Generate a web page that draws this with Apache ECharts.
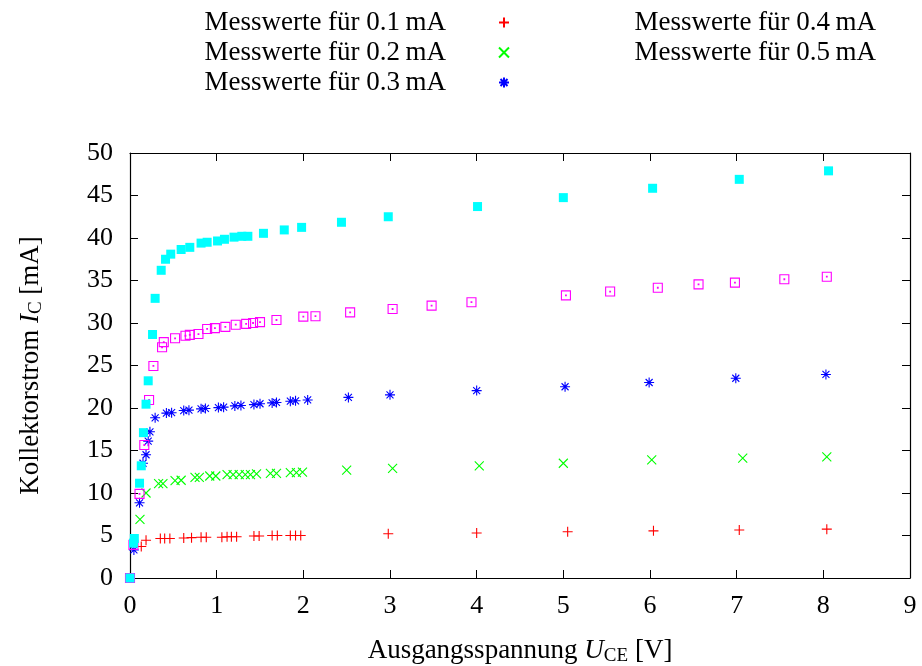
<!DOCTYPE html>
<html><head><meta charset="utf-8">
<script src="https://cdn.jsdelivr.net/npm/echarts@6/dist/echarts.min.js"></script>
<style>html,body{margin:0;padding:0;background:#fff}#c{width:922px;height:666px}</style>
</head><body><div id="c"></div>
<script>
const FONT = 'Liberation Serif';
const seriesNames = ['Messwerte für 0.1\u2009mA','Messwerte für 0.2\u2009mA','Messwerte für 0.3\u2009mA','Messwerte für 0.4\u2009mA','Messwerte für 0.5\u2009mA'];
const seriesColors = ['#ff0000','#00ff00','#0000ff','#ff00ff','#00ffff'];
const xTicks = [0,1,2,3,4,5,6,7,8,9];
const yTicks = [0,5,10,15,20,25,30,35,40,45,50];

const uce01 = [0,0.13,0.185,0.35,0.40,0.46,0.62,0.71,0.82,0.88,1.06,1.12,1.17,1.23,1.43,1.49,1.64,1.70,1.85,1.91,1.97,2.98,4.0,5.05,6.04,7.03,8.04];
const ic01  = [0,3.7,4.45,4.65,4.65,4.65,4.7,4.75,4.8,4.8,4.8,4.85,4.85,4.85,4.95,4.95,5.0,5.0,5.0,5.0,5.0,5.2,5.3,5.45,5.55,5.65,5.75];

const uce02 = [0,0.115,0.185,0.33,0.38,0.52,0.59,0.75,0.80,0.92,0.99,1.12,1.19,1.26,1.33,1.39,1.46,1.62,1.69,1.85,1.92,1.99,2.50,3.03,4.03,5.0,6.02,7.07,8.04];
const ic02  = [0,6.9,10.0,11.1,11.1,11.45,11.5,11.85,11.85,12.0,12.0,12.15,12.15,12.15,12.15,12.15,12.25,12.3,12.3,12.4,12.4,12.45,12.7,12.9,13.2,13.5,13.9,14.1,14.25];

const uce03 = [0,0.045,0.11,0.15,0.185,0.21,0.23,0.29,0.42,0.48,0.62,0.68,0.82,0.87,1.02,1.08,1.21,1.28,1.43,1.50,1.64,1.69,1.85,1.91,2.05,2.52,3.0,4.0,5.02,5.99,6.99,8.03];
const ic03  = [0,3.3,8.85,13.5,14.5,16.1,17.2,18.85,19.4,19.45,19.7,19.75,19.9,19.95,20.05,20.1,20.25,20.3,20.4,20.5,20.6,20.65,20.8,20.85,20.95,21.25,21.55,22.05,22.5,23.0,23.5,23.95];

const uce04 = [0,0.04,0.11,0.165,0.22,0.27,0.37,0.39,0.52,0.64,0.69,0.79,0.89,0.98,1.10,1.22,1.34,1.42,1.50,1.69,2.0,2.14,2.54,3.03,3.48,3.94,5.03,5.54,6.09,6.56,6.98,7.55,8.04];
const ic04  = [0,3.9,9.9,15.65,20.95,24.95,27.15,27.75,28.2,28.5,28.6,28.7,29.3,29.4,29.55,29.8,29.9,30.0,30.1,30.35,30.75,30.8,31.25,31.65,32.05,32.45,33.25,33.7,34.15,34.55,34.75,35.15,35.45];

const uce05 = [0,0.04,0.05,0.11,0.13,0.155,0.185,0.21,0.26,0.29,0.36,0.41,0.47,0.59,0.69,0.82,0.89,1.01,1.09,1.20,1.29,1.36,1.54,1.78,1.98,2.44,2.98,4.01,5.0,6.03,7.03,8.06];
const ic05  = [0,4.1,4.65,11.15,13.2,17.1,20.45,23.2,28.65,32.9,36.2,37.5,38.1,38.65,38.9,39.4,39.5,39.65,39.85,40.1,40.2,40.2,40.55,40.95,41.25,41.85,42.5,43.7,44.75,45.85,46.9,47.9];

const xs = [uce01,uce02,uce03,uce04,uce05];
const ys = [ic01,ic02,ic03,ic04,ic05];
const symbols = [
  'path://M5 0V10M0 5H10',
  'path://M0 0L10 10M0 10L10 0',
  'path://M5 0V10M0 5H10M1.5 1.5L8.5 8.5M1.5 8.5L8.5 1.5',
  'path://M0 0H10V10H0ZM4.6 4.6H5.4V5.4H4.6Z',
  'rect'
];
const sizes = [10, 9, 10, 9, 9];

const series = xs.map((x, k) => {
  const filled = k === 4;
  return {
    type: 'scatter', name: seriesNames[k],
    xAxisIndex: 0, yAxisIndex: 0,
    data: x.map((v, i) => [v, ys[k][i]]),
    symbol: symbols[k], symbolSize: sizes[k],
    itemStyle: filled ? {color: seriesColors[k], opacity: 1}
      : {color: 'rgba(0,0,0,0)', borderColor: seriesColors[k], borderWidth: 1.1, opacity: 1},
    emphasis: {disabled: true},
    z: 2 + k
  };
});

const tickStyle = {inside: true, length: 8, lineStyle: {color: '#000', width: 1}};
const lineStyle = {show: true, onZero: false, lineStyle: {color: '#000', width: 1.2}};
const labelFont = {fontFamily: FONT, fontSize: 26, color: '#000'};
const rich = {
  t: {fontFamily: FONT, fontSize: 27, color: '#000'},
  i: {fontFamily: FONT, fontSize: 27, fontStyle: 'italic', color: '#000'},
  sub: {fontFamily: FONT, fontSize: 19, color: '#000', padding: [12, 0, 0, 0]}
};

const chart = echarts.init(document.getElementById('c'), null, {renderer: 'canvas'});
chart.setOption({
  animation: false,
  backgroundColor: '#fff',
  grid: {left: 130, right: 12, top: 153, bottom: 88, containLabel: false, outerBoundsMode: 'none'},
  legend: [
    {data: seriesNames.slice(0, 3), orient: 'vertical', align: 'right',
     right: 407, top: 4, itemWidth: 106, itemHeight: 10, itemGap: 3,
     selectedMode: false,
     textStyle: {fontFamily: FONT, fontSize: 27, color: '#000', lineHeight: 25}},
    {data: seriesNames.slice(3, 5), orient: 'vertical', align: 'right',
     right: -70, top: 4, itemWidth: 106, itemHeight: 10, itemGap: 3,
     selectedMode: false, itemStyle: {opacity: 0},
     textStyle: {fontFamily: FONT, fontSize: 27, color: '#000', lineHeight: 25}}
  ],
  xAxis: [
    {type: 'value', min: 0, max: 9, interval: 1, position: 'bottom',
     axisLine: lineStyle, axisTick: tickStyle, splitLine: {show: false},
     axisLabel: Object.assign({margin: 15, formatter: v => xTicks.includes(v) ? String(v) : ''}, labelFont),
     name: '{t|Ausgangsspannung }{i|U}{sub|CE}{t| [V]}', nameLocation: 'middle', nameGap: 57,
     nameTextStyle: {rich: rich}},
    {type: 'value', min: 0, max: 9, interval: 1, position: 'top',
     axisLine: lineStyle, axisTick: tickStyle, splitLine: {show: false}, axisLabel: {show: false}}
  ],
  yAxis: [
    {type: 'value', min: 0, max: 50, interval: 5, position: 'left',
     axisLine: lineStyle, axisTick: tickStyle, splitLine: {show: false},
     axisLabel: Object.assign({margin: 17, formatter: v => yTicks.includes(v) ? String(v) : ''}, labelFont),
     name: '{t|Kollektorstrom }{i|I}{sub|C}{t| [mA]}', nameLocation: 'middle', nameGap: 84, nameRotate: 90,
     nameTextStyle: {rich: rich}},
    {type: 'value', min: 0, max: 50, interval: 5, position: 'right',
     axisLine: lineStyle, axisTick: tickStyle, splitLine: {show: false}, axisLabel: {show: false}}
  ],
  series: series
});
</script>
</body></html>
